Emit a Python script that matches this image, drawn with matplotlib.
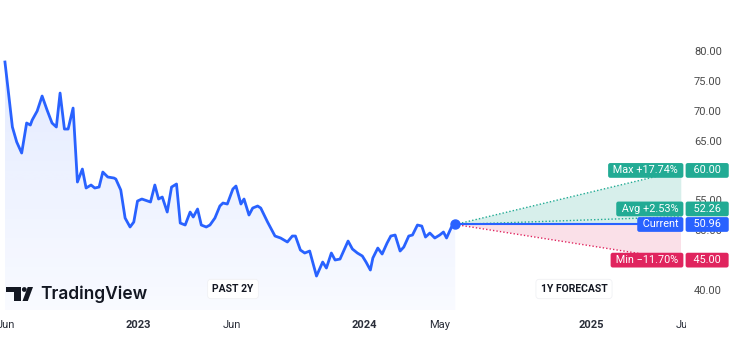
import matplotlib
matplotlib.use('Agg')
import matplotlib.pyplot as plt
import matplotlib.dates as mdates
import numpy as np
from matplotlib.patches import Polygon, Rectangle, Circle
from matplotlib.transforms import blended_transform_factory, IdentityTransform

# weekly closes
dates = ['2022-05-30', '2022-06-11', '2022-06-18', '2022-06-26', '2022-07-04', '2022-07-10',
         '2022-07-13', '2022-07-21', '2022-07-29', '2022-08-06', '2022-08-14', '2022-08-21',
         '2022-08-27', '2022-09-03', '2022-09-09', '2022-09-17', '2022-09-24', '2022-10-02',
         '2022-10-08', '2022-10-16', '2022-10-22', '2022-10-29', '2022-11-04', '2022-11-12',
         '2022-11-22', '2022-11-25', '2022-12-03', '2022-12-10', '2022-12-18', '2022-12-24',
         '2022-12-30', '2023-01-06', '2023-01-20', '2023-01-27', '2023-02-02', '2023-02-08',
         '2023-02-16', '2023-02-23', '2023-03-03', '2023-03-09', '2023-03-17', '2023-03-25',
         '2023-03-30', '2023-04-06', '2023-04-12', '2023-04-20', '2023-04-26', '2023-05-04',
         '2023-05-12', '2023-05-17', '2023-05-24', '2023-06-02', '2023-06-07', '2023-06-15',
         '2023-06-20', '2023-06-28', '2023-07-04', '2023-07-12', '2023-07-17', '2023-07-28',
         '2023-08-09', '2023-08-18', '2023-08-29', '2023-09-06', '2023-09-11', '2023-09-19',
         '2023-09-26', '2023-10-04', '2023-10-15', '2023-10-25', '2023-10-31', '2023-11-08',
         '2023-11-14', '2023-11-22', '2023-12-05', '2023-12-12', '2023-12-20', '2023-12-28',
         '2024-01-03', '2024-01-10', '2024-01-14', '2024-01-22', '2024-01-29', '2024-02-06',
         '2024-02-12', '2024-02-19', '2024-02-27', '2024-03-04', '2024-03-12', '2024-03-18',
         '2024-03-26', '2024-04-02', '2024-04-08', '2024-04-15', '2024-04-23', '2024-05-01',
         '2024-05-07', '2024-05-12', '2024-05-20', '2024-05-26']
prices = [78.13, 67.26, 64.75, 62.91, 67.93, 67.59, 68.43, 69.93, 72.44, 70.10,
          67.93, 67.26, 72.94, 66.92, 66.92, 70.43, 58.06, 60.23, 57.06, 57.56,
          57.06, 57.22, 59.73, 58.90, 58.73, 58.56, 56.72, 52.04, 50.54, 51.37,
          54.88, 55.22, 54.72, 57.56, 55.22, 55.55, 53.04, 57.22, 57.73, 51.20,
          50.87, 53.04, 52.21, 53.55, 50.87, 50.54, 50.87, 52.04, 54.05, 54.55,
          54.38, 56.89, 57.39, 54.38, 55.22, 52.54, 53.71, 54.05, 53.71, 51.37,
          49.03, 48.70, 48.03, 49.03, 49.03, 46.69, 46.19, 46.52, 42.34, 44.68,
          43.68, 46.19, 45.02, 45.18, 48.19, 46.86, 46.19, 45.69, 44.68, 43.34,
          45.35, 47.02, 46.02, 47.86, 49.03, 49.20, 46.52, 47.19, 49.03, 49.20,
          50.87, 50.70, 48.86, 49.53, 48.70, 49.20, 49.70, 48.70, 50.54, 50.96]

current = 50.96
fc_date = '2025-05-26'
fc_max, fc_avg, fc_min = 60.00, 52.26, 45.00
fc_tags = ['Max +17.74%', 'Avg +2.53%', 'Current', 'Min \u221211.70%']

y_ticks = [40, 45, 50, 55, 60, 65, 70, 75, 80]
x_ticks = ['2022-06-01', '2023-01-01', '2023-06-01', '2024-01-01', '2024-05-01', '2025-01-01', '2025-06-01']
x_ticklabels = ['Jun', '2023', 'Jun', '2024', 'May', '2025', 'Jun']

blue = '#2962ff'
green = '#22ab94'
red = '#e0245e'
W, H = 730, 363

plt.rcParams['font.family'] = ['Roboto', 'DejaVu Sans']

fig = plt.figure(figsize=(W / 100, H / 100), dpi=100)
ax = fig.add_axes([0, 53 / H, 685 / W, 310 / H])

x = mdates.datestr2num(dates)
y = np.array(prices)
x_fc = mdates.datestr2num(fc_date)
x0 = mdates.datestr2num('2022-05-22')
ylo, yhi = 36.66, 88.5
ax.set_xlim(x0, x_fc + 2)
ax.set_ylim(ylo, yhi)

# gradient area under the price line
poly = Polygon(np.column_stack([np.r_[x[0], x, x[-1]], np.r_[ylo, y, ylo]]),
               closed=True, fc='none', ec='none')
ax.add_patch(poly)
grad = np.zeros((256, 1, 4))
grad[:, 0, :3] = matplotlib.colors.to_rgb(blue)
grad[:, 0, 3] = np.linspace(0.03, 0.13, 256)
im = ax.imshow(grad, extent=[x[0], x[-1], ylo, y.max()], origin='lower',
               aspect='auto', zorder=1)
im.set_clip_path(poly)

ax.plot(x, y, color=blue, lw=2, solid_joinstyle='round', zorder=4)

# forecast cone
ax.fill([x[-1], x_fc, x_fc], [current, fc_max, current], color=green, alpha=0.18, lw=0, zorder=2)
ax.fill([x[-1], x_fc, x_fc], [current, current, fc_min], color=red, alpha=0.14, lw=0, zorder=2)
ax.plot([x[-1], x_fc], [current, fc_max], color=green, lw=1, ls=(0, (1, 1.5)), zorder=3)
ax.plot([x[-1], x_fc], [current, fc_avg], color=green, lw=1, ls=(0, (1, 1.5)), zorder=3)
ax.plot([x[-1], x_fc], [current, fc_min], color=red, lw=1, ls=(0, (1, 1.5)), zorder=3)
ax.plot([x[-1], x_fc], [current, current], color=blue, lw=1.5, zorder=3)
ax.plot(x[-1], current, 'o', ms=6.5, color=blue, zorder=5)

# axes
for s in ax.spines.values():
    s.set_visible(False)
ax.yaxis.tick_right()
ax.set_yticks(y_ticks)
ax.set_yticklabels([f'{v:.2f}' for v in y_ticks])
ax.set_xticks(mdates.datestr2num(x_ticks))
ax.set_xticklabels(x_ticklabels)
ax.tick_params(axis='y', length=0, pad=6.5, labelsize=8, labelcolor='#4a4a4a')
ax.tick_params(axis='x', length=0, pad=7, labelsize=8, labelcolor='#2a2e39')
for lab in ax.get_xticklabels():
    if lab.get_text().isdigit():
        lab.set_fontweight('bold')

# tags on the price scale
trans = blended_transform_factory(ax.transAxes, ax.transData)
tag_y = [fc_max, fc_avg + 1.3, current, fc_min]
tag_val = [fc_max, fc_avg, current, fc_min]
tag_col = [green, green, blue, red]
for t, yy, v, c in zip(fc_tags, tag_y, tag_val, tag_col):
    ax.text(681 / 685, yy, ' ' + t + ' ', transform=trans, ha='right', va='center',
            fontsize=7.8, color='white', clip_on=False, zorder=6,
            bbox=dict(boxstyle='round,pad=0.22,rounding_size=0.2', fc=c, ec='none'))
    ax.text(688 / 685, yy, '  ' + f'{v:.2f}' + '  ', transform=trans, ha='left', va='center',
            fontsize=7.8, color='white', clip_on=False, zorder=6,
            bbox=dict(boxstyle='round,pad=0.22,rounding_size=0.2', fc=c, ec='none'))

# cover the part of the last date label hidden by the price scale
fig.add_artist(Rectangle((686, 0), 44, 53, transform=IdentityTransform(),
                         fc='white', ec='none', zorder=10))

# section captions
for cx, txt in [(233, 'PAST 2Y'), (574, '1Y FORECAST')]:
    fig.text(cx / W, 1 - 289 / H, txt, ha='center', va='center', fontsize=7.5,
             fontweight='bold', color='#131722',
             bbox=dict(boxstyle='round,pad=0.45,rounding_size=0.3', fc='white', ec='#f0f1f4', lw=0.6))

# TradingView logo
logo = '#131722'
fig.add_artist(Rectangle((6, H - 292), 15, 5, transform=IdentityTransform(), fc=logo, ec='none'))
fig.add_artist(Rectangle((13.5, H - 301), 7.5, 14, transform=IdentityTransform(), fc=logo, ec='none'))
fig.add_artist(Circle((24.3, H - 289.5), 2.4, transform=IdentityTransform(), fc=logo, ec='none'))
fig.add_artist(Polygon([(22.5, H - 301), (27.8, H - 301), (33, H - 287), (27.7, H - 287)],
                       closed=True, transform=IdentityTransform(), fc=logo, ec='none'))
fig.text(40 / W, 1 - 299 / H, 'TradingView', ha='left', va='baseline', fontsize=12.5,
         family=['Inter', 'Roboto', 'DejaVu Sans'], fontweight='semibold', color=logo)

fig.savefig('out.png', dpi=100, facecolor='white')
